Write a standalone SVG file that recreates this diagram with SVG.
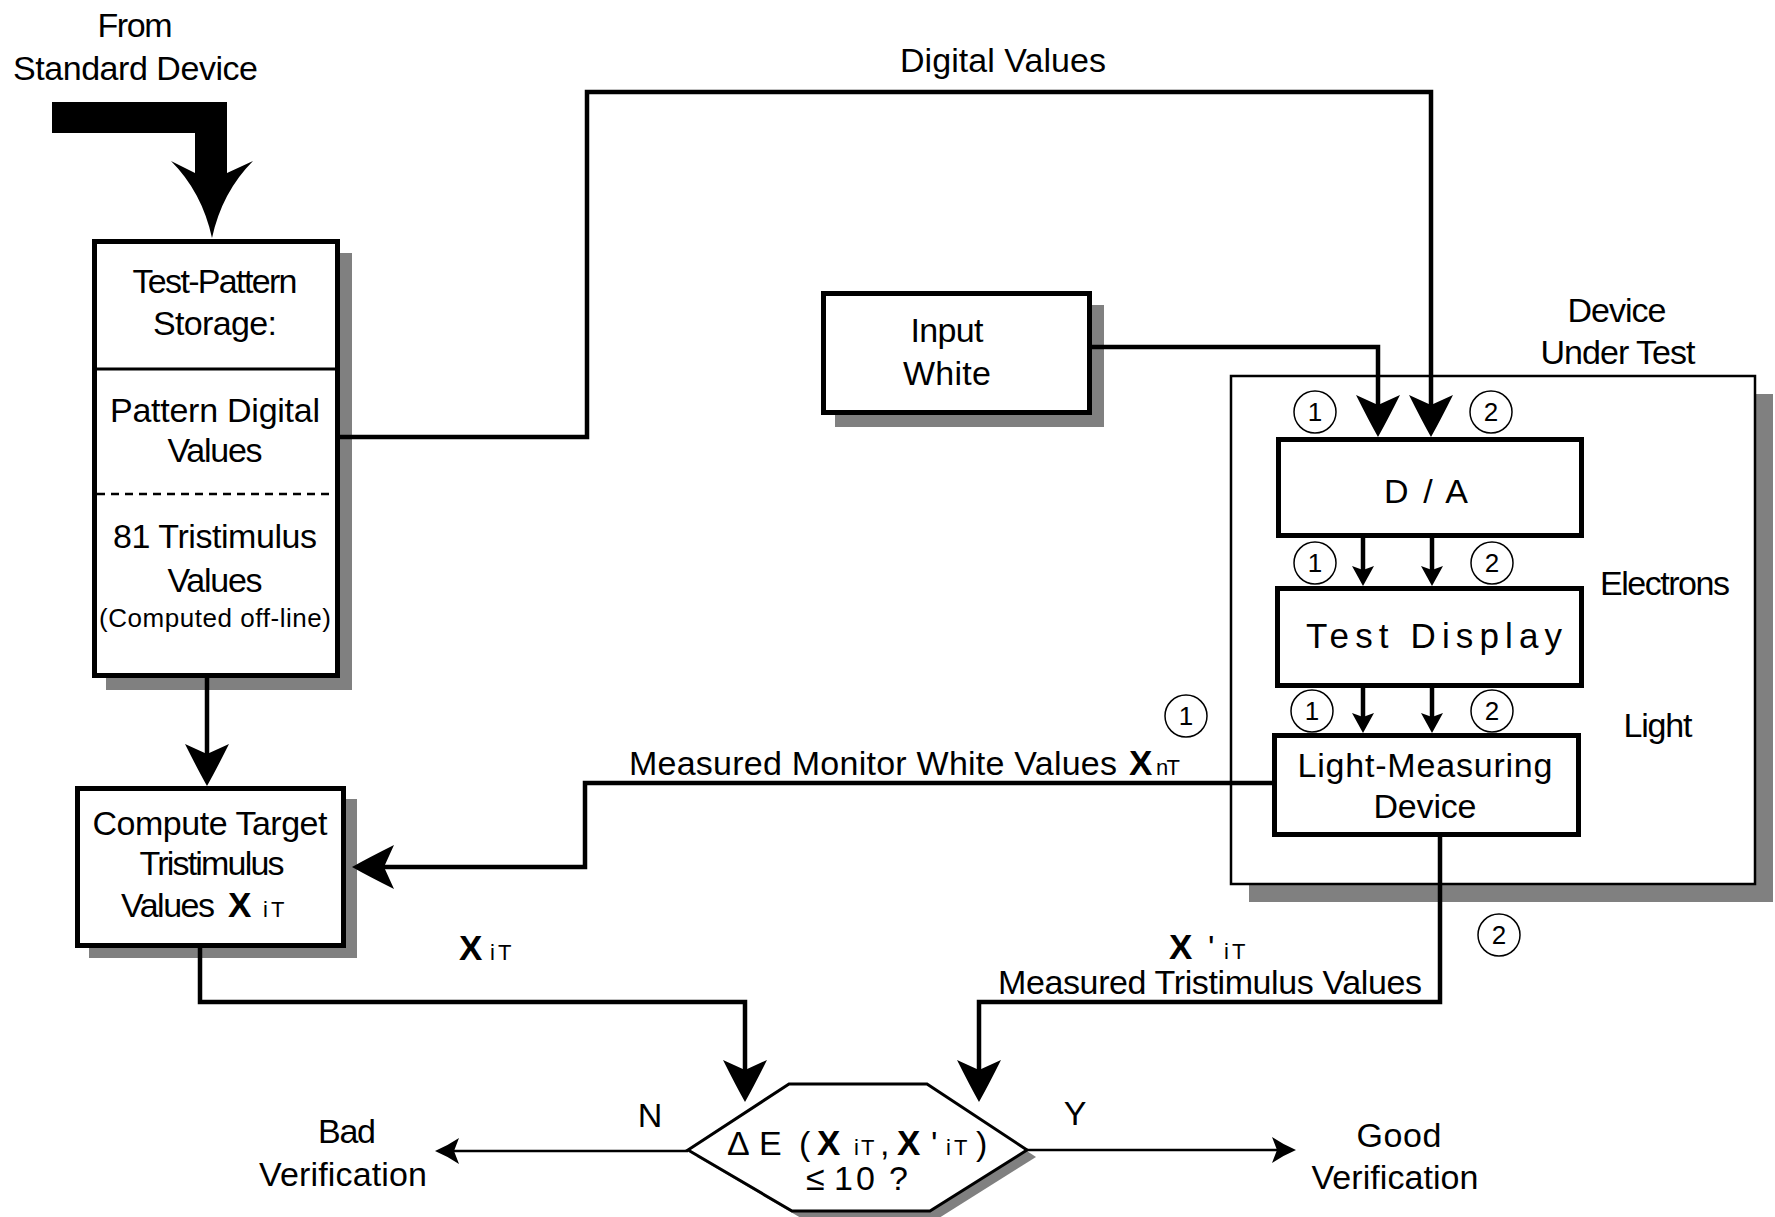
<svg xmlns="http://www.w3.org/2000/svg" width="1775" height="1217" viewBox="0 0 1775 1217">
<style>
  text { font-family: "Liberation Sans", Arial, sans-serif; font-size: 34px; fill: #000; }
  .c { text-anchor: middle; }
  .b { font-weight: bold; font-size: 35px; }
  .s { font-size: 22px; }
  .box { fill: #fff; stroke: #000; stroke-width: 5; }
  .sh { fill: #808080; }
  .ln { fill: none; stroke: #000; stroke-width: 4.5; }
  .thin { fill: none; stroke: #000; stroke-width: 2.5; }
  .circ { fill: #fff; stroke: #000; stroke-width: 1.5; }
  .num { font-size: 26px; text-anchor: middle; }
</style>
<defs>
  <marker id="big" markerUnits="userSpaceOnUse" orient="auto" refX="0" refY="0" markerWidth="60" markerHeight="60" viewBox="-30 -30 60 60" overflow="visible">
    <path d="M20,0 Q4,-9 -22,-22 L-12,0 L-22,22 Q4,9 20,0 Z" fill="#000"/>
  </marker>
  <marker id="small" markerUnits="userSpaceOnUse" orient="auto" refX="0" refY="0" markerWidth="30" markerHeight="30" viewBox="-15 -15 30 30" overflow="visible">
    <path d="M10,0 L-10,-11 L-6,0 L-10,11 Z" fill="#000"/>
  </marker>
  <marker id="exit" markerUnits="userSpaceOnUse" orient="auto" refX="0" refY="0" markerWidth="30" markerHeight="30" viewBox="-15 -15 30 30" overflow="visible">
    <path d="M12,0 Q0,-5 -12,-13 L-7,0 L-12,13 Q0,5 12,0 Z" fill="#000"/>
  </marker>
</defs>

<g id="source">
  <text class="c" x="135" y="37" textLength="75">From</text>
  <text class="c" x="135.5" y="80" textLength="245">Standard Device</text>
  <path d="M52,102 L227,102 L227,173 L253,161 Q222,192 212,238 Q202,192 171,161 L195,173 L195,133 L52,133 Z" fill="#000"/>
</g>

<g id="dut">
  <rect class="sh" x="1249" y="394" width="524" height="508"/>
  <rect x="1231" y="376" width="524" height="508" fill="#fff" stroke="#000" stroke-width="2.5"/>
  <text class="c" x="1617" y="322" textLength="99">Device</text>
  <text class="c" x="1618" y="364" textLength="155">Under Test</text>
  <text class="c" x="1665" y="595" textLength="130">Electrons</text>
  <text class="c" x="1658" y="737" textLength="69">Light</text>
</g>

<g id="test-pattern-storage">
  <rect class="sh" x="106" y="253" width="246" height="437"/>
  <rect class="box" x="94.5" y="241.5" width="243" height="434"/>
  <line x1="94" y1="369" x2="338" y2="369" stroke="#000" stroke-width="3"/>
  <line x1="97" y1="494" x2="336" y2="494" stroke="#000" stroke-width="2.5" stroke-dasharray="8 6"/>
  <text class="c" x="215" y="293" textLength="165">Test-Pattern</text>
  <text class="c" x="215" y="335" textLength="124">Storage:</text>
  <text class="c" x="215" y="422" textLength="210">Pattern Digital</text>
  <text class="c" x="215" y="462" textLength="95">Values</text>
  <text class="c" x="215" y="548" textLength="204">81 Tristimulus</text>
  <text class="c" x="215" y="592" textLength="95">Values</text>
  <text class="c" x="215" y="627" style="font-size:26px" textLength="232">(Computed off-line)</text>
</g>

<g id="input-white">
  <rect class="sh" x="835" y="305" width="269" height="122"/>
  <rect class="box" x="823.5" y="293.5" width="266" height="119"/>
  <text class="c" x="947" y="342" textLength="73">Input</text>
  <text class="c" x="947" y="385" textLength="88">White</text>
</g>

<g id="compute-target">
  <rect class="sh" x="89" y="799" width="268" height="159"/>
  <rect class="box" x="77.5" y="788.5" width="266" height="157"/>
  <text class="c" x="210" y="835" textLength="235">Compute Target</text>
  <text class="c" x="212" y="875" textLength="145">Tristimulus</text>
  <text x="121" y="917" textLength="94">Values</text>
  <text class="b" x="228" y="917">X</text>
  <text class="s" x="263" y="917">i</text>
  <text class="s" x="271" y="917">T</text>
</g>

<g id="da">
  <rect class="box" x="1278.5" y="439.5" width="303" height="96"/>
  <text class="c" x="1426" y="503" textLength="84">D / A</text>
</g>

<g id="test-display">
  <rect class="box" x="1277.5" y="588.5" width="304" height="97"/>
  <text class="c" x="1434" y="648" style="font-size:35px" textLength="256">Test Display</text>
</g>

<g id="light-measuring">
  <rect class="box" x="1274.5" y="735.5" width="304" height="99"/>
  <text class="c" x="1425" y="777" textLength="255">Light-Measuring</text>
  <text class="c" x="1425" y="818" textLength="103">Device</text>
</g>

<g id="decision">
  <polygon class="sh" points="697,1157 798,1091 936,1091 1036,1157 939,1218 801,1218"/>
  <polygon points="688,1150 789,1084 927,1084 1027,1150 930,1211 792,1211" fill="#fff" stroke="#000" stroke-width="3"/>
  <text x="727" y="1155">Δ</text>
  <text x="759" y="1155">E</text>
  <text x="799" y="1155">(</text>
  <text class="b" x="817" y="1155">X</text>
  <text class="s" x="854" y="1155">i</text>
  <text class="s" x="861" y="1155">T</text>
  <text x="880" y="1155">,</text>
  <text class="b" x="897" y="1155">X</text>
  <text x="931" y="1155">'</text>
  <text class="s" x="946" y="1155">i</text>
  <text class="s" x="954" y="1155">T</text>
  <text x="976" y="1155">)</text>
  <text x="806" y="1190">≤</text>
  <text x="834" y="1190">1</text>
  <text x="856" y="1190">0</text>
  <text x="889" y="1190">?</text>
</g>

<g id="bad-verification">
  <text class="c" x="347" y="1143" textLength="58">Bad</text>
  <text class="c" x="343" y="1186" textLength="168">Verification</text>
</g>

<g id="good-verification">
  <text class="c" x="1399" y="1147" textLength="85">Good</text>
  <text class="c" x="1395" y="1189" textLength="167">Verification</text>
</g>

<g id="connectors">
  <path class="ln" d="M340,437 H587 V92 H1431 V417" marker-end="url(#big)"/>
  <path class="ln" d="M1092,347 H1378 V417" marker-end="url(#big)"/>
  <path class="ln" d="M207,678 V766" marker-end="url(#big)"/>
  <path class="ln" d="M1272,783 H585 V867 H372" marker-end="url(#big)"/>
  <path class="ln" d="M200,948 V1002 H745 V1082" marker-end="url(#big)"/>
  <path class="ln" d="M1440,837 V1002 H979 V1082" marker-end="url(#big)"/>
  <path class="ln" d="M1363,538 V576" marker-end="url(#small)"/>
  <path class="ln" d="M1432,538 V576" marker-end="url(#small)"/>
  <path class="ln" d="M1363,688 V723" marker-end="url(#small)"/>
  <path class="ln" d="M1432,688 V723" marker-end="url(#small)"/>
  <path class="thin" d="M688,1151 H447" marker-end="url(#exit)"/>
  <path class="thin" d="M1027,1150 H1284" marker-end="url(#exit)"/>
</g>

<g id="labels">
  <text class="c" x="1003" y="72" textLength="206">Digital Values</text>
  <text x="629" y="775" textLength="488">Measured Monitor White Values</text>
  <text class="b" x="1129" y="775">X</text>
  <text class="s" x="1156" y="775" textLength="24">nT</text>
  <text class="b" x="459" y="960">X</text>
  <text class="s" x="490" y="960">i</text>
  <text class="s" x="498" y="960">T</text>
  <text class="b" x="1169" y="959">X</text>
  <text x="1208" y="959">'</text>
  <text class="s" x="1224" y="959">i</text>
  <text class="s" x="1232" y="959">T</text>
  <text x="998" y="994" textLength="424">Measured Tristimulus Values</text>
  <text class="c" x="650" y="1127">N</text>
  <text class="c" x="1075" y="1125">Y</text>
</g>

<g id="port-markers">
  <circle class="circ" cx="1315" cy="412" r="21"/><text class="num" x="1315" y="421">1</text>
  <circle class="circ" cx="1491" cy="412" r="21"/><text class="num" x="1491" y="421">2</text>
  <circle class="circ" cx="1315" cy="563" r="21"/><text class="num" x="1315" y="572">1</text>
  <circle class="circ" cx="1492" cy="563" r="21"/><text class="num" x="1492" y="572">2</text>
  <circle class="circ" cx="1312" cy="711" r="21"/><text class="num" x="1312" y="720">1</text>
  <circle class="circ" cx="1492" cy="711" r="21"/><text class="num" x="1492" y="720">2</text>
  <circle class="circ" cx="1186" cy="716" r="21"/><text class="num" x="1186" y="725">1</text>
  <circle class="circ" cx="1499" cy="935" r="21"/><text class="num" x="1499" y="944">2</text>
</g>
</svg>
